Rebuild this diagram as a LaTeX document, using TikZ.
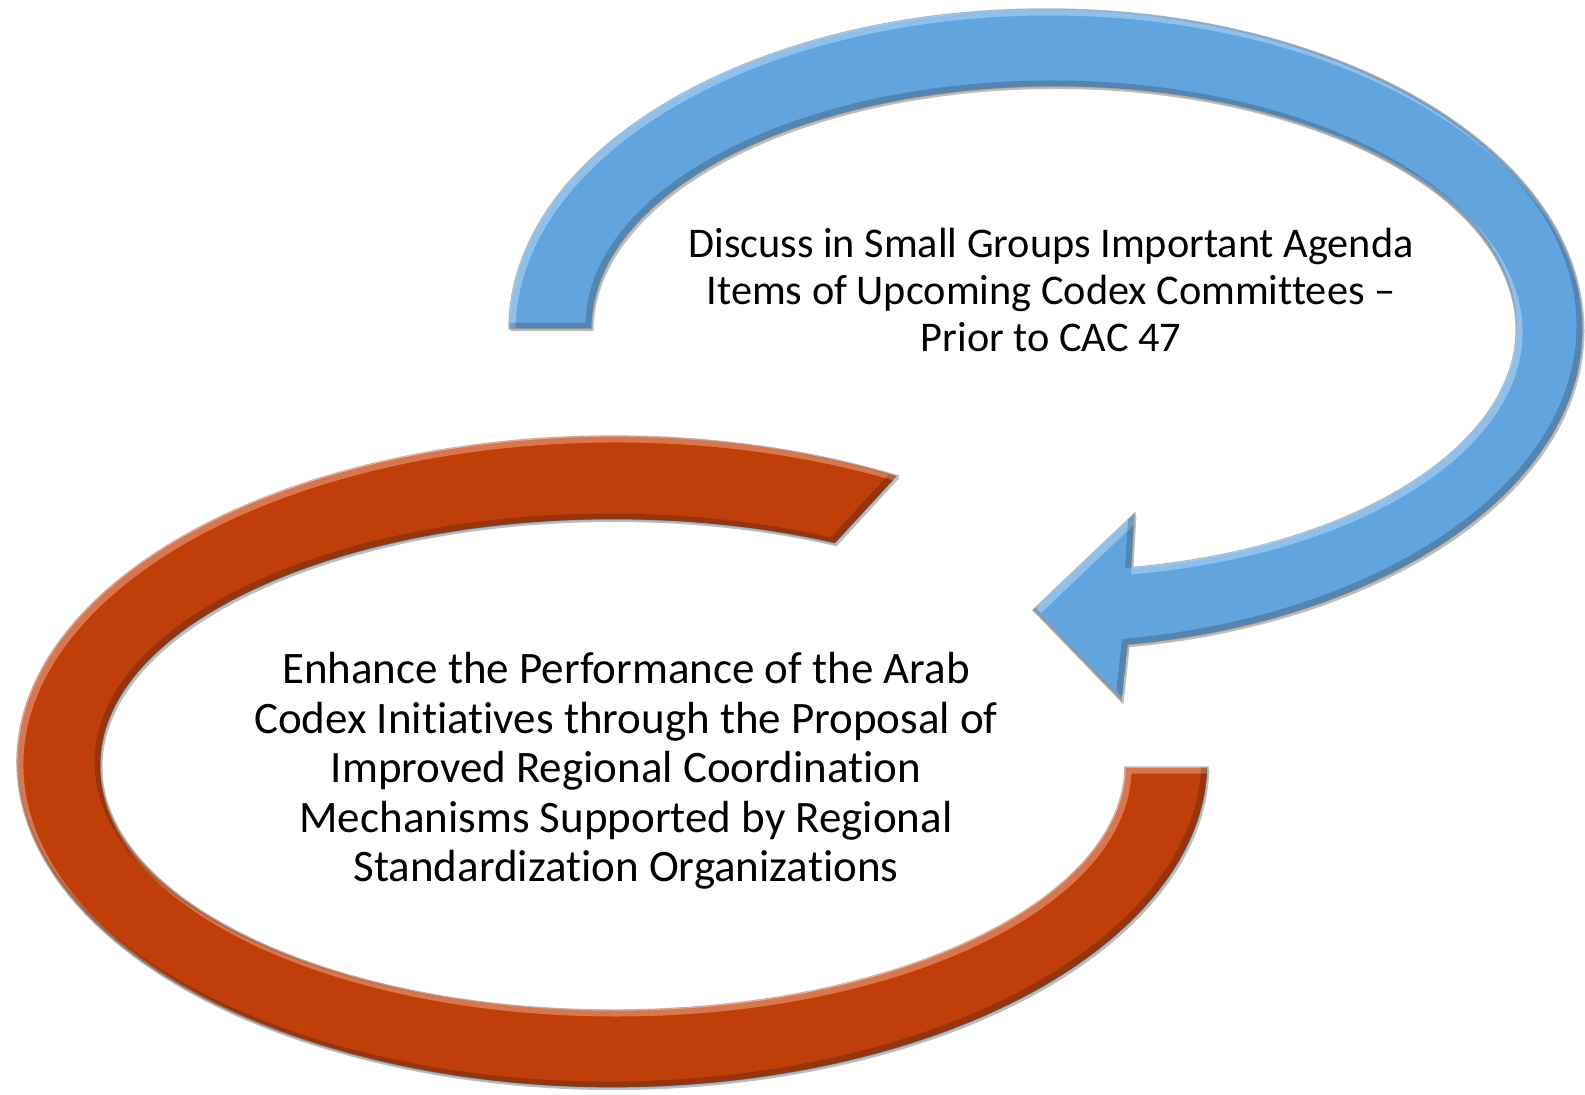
\documentclass[tikz,border=0pt]{standalone}
\usepackage{fontspec}
\setmainfont{Carlito}[Ligatures={NoCommon,NoContextual}]
\definecolor{blueC}{RGB}{98,164,222}
\definecolor{orangeC}{RGB}{191,62,10}
\tikzset{
  shapeshadow/.style={fill=black,opacity=0.25},
  shapeoutline/.style={draw=gray!55,line width=1.4pt},
  bevellight/.style={draw=white,opacity=0.3,line width=7pt},
  beveldark/.style={draw=black,opacity=0.18,line width=7pt},
  labeltext/.style={align=center,text=black,inner sep=0pt}
}
\def\BluePath{(509,-329) arc[start angle=180,end angle=-81.2,x radius=537pt,y radius=320pt] -- (1122,-702) -- (1033,-610) -- (1135,-513) -- (1131.84,-567.54) arc[start angle=-80.3,end angle=180,x radius=462pt,y radius=242pt] -- cycle}
\def\OrangePath{(898.02,-475.92) arc[start angle=61.35,end angle=359.1,x radius=595.5pt,y radius=326pt] -- (1124.98,-767.14) arc[start angle=359.5,end angle=64.3,x radius=512pt,y radius=245pt] -- cycle}
\begin{document}
\begin{tikzpicture}[x=1pt,y=1pt]
\fill[white] (0,0) rectangle (1585,-1095);
\useasboundingbox (0,0) rectangle (1585,-1095);
% shadows
\begin{scope}[shift={(1.5,-2)}]
  \fill[shapeshadow] \BluePath;
  \fill[shapeshadow] \OrangePath;
\end{scope}
% blue arrow
\fill[blueC,shapeoutline] \BluePath;
\begin{scope}
  \clip \BluePath;
  \begin{scope}[shift={(3,-3)}]\path[bevellight] \BluePath;\end{scope}
  \begin{scope}[shift={(-3,3)}]\path[beveldark] \BluePath;\end{scope}
\end{scope}
% orange arc
\fill[orangeC,shapeoutline] \OrangePath;
\begin{scope}
  \clip \OrangePath;
  \begin{scope}[shift={(3,-3)}]\path[bevellight] \OrangePath;\end{scope}
  \begin{scope}[shift={(-3,3)}]\path[beveldark] \OrangePath;\end{scope}
\end{scope}
% texts
\node[labeltext,font=\fontsize{42.3}{47}\selectfont] (upper) at (1051,-290)
  {Discuss in Small Groups Important Agenda\\Items of Upcoming Codex Committees –\\Prior to CAC 47};
\node[labeltext,font=\fontsize{45}{49.5}\selectfont] (lower) at (626,-771)
  {Enhance the Performance of the Arab\\Codex Initiatives through the Proposal of\\Improved Regional Coordination\\Mechanisms Supported by Regional\\Standardization Organizations};
\end{tikzpicture}
\end{document}
